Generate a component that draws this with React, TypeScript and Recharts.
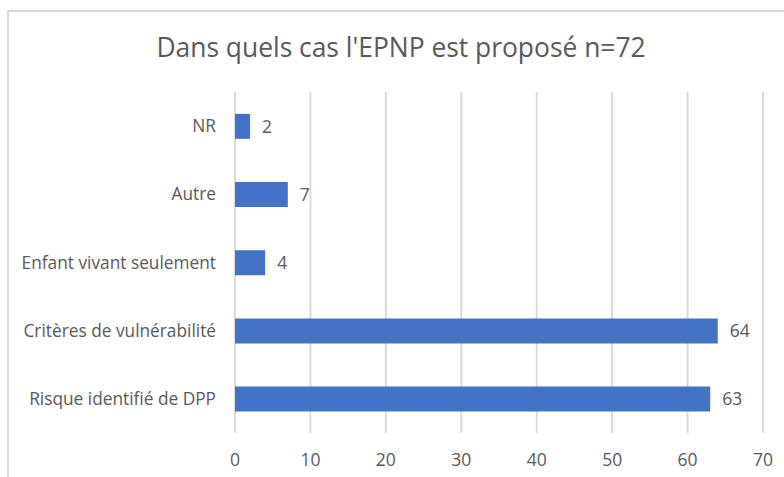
import { BarChart, Bar, XAxis, YAxis, CartesianGrid, LabelList } from 'recharts'

const categories = ['NR', 'Autre', 'Enfant vivant seulement', 'Critères de vulnérabilité', 'Risque identifié de DPP']
const counts = [2, 7, 4, 64, 63]
const xTicks = [0, 10, 20, 30, 40, 50, 60, 70]

const data = categories.map((name, i) => ({ name, value: counts[i] }))

const FONT = '"Open Sans", "Noto Sans", sans-serif'
const TEXT = '#595959'
const GRID = '#d9d9d9'

export default function App() {
  return (
    <div style={{ position: 'absolute', left: 0, top: 0, width: 784, height: 477, overflow: 'hidden', background: '#fff', fontFamily: FONT }}>
      <div
        style={{
          position: 'absolute',
          left: 7,
          top: 10,
          width: 800,
          height: 500,
          borderLeft: `2px solid ${GRID}`,
          borderTop: `2px solid ${GRID}`,
        }}
      />
      <div
        style={{
          position: 'absolute',
          left: 0,
          top: 29,
          width: 802,
          textAlign: 'center',
          fontSize: 26.4,
          lineHeight: '36px',
          color: TEXT,
        }}
      >
        Dans quels cas l'EPNP est proposé n=72
      </div>
      <div style={{ position: 'absolute', left: 0, top: 0 }}>
        <BarChart
          width={784}
          height={477}
          data={data}
          layout="vertical"
          margin={{ top: 92, right: 21, left: 0, bottom: 14 }}
          barCategoryGap="32%"
        >
          <CartesianGrid horizontal={false} stroke={GRID} strokeWidth={2} />
          <XAxis
            type="number"
            domain={[0, 70]}
            ticks={xTicks}
            axisLine={false}
            tickLine={false}
            height={30}
            tickMargin={15}
            tick={{ fill: TEXT, fontSize: 17.5, fontFamily: FONT }}
          />
          <YAxis
            type="category"
            dataKey="name"
            width={235}
            axisLine={false}
            tickLine={false}
            tickMargin={13}
            tick={{ fill: TEXT, fontSize: 17.3, fontFamily: FONT }}
          />
          <Bar dataKey="value" fill="#4472c4" isAnimationActive={false}>
            <LabelList dataKey="value" position="right" offset={12} fill={TEXT} fontSize={17.5} fontFamily={FONT} />
          </Bar>
        </BarChart>
      </div>
    </div>
  )
}
